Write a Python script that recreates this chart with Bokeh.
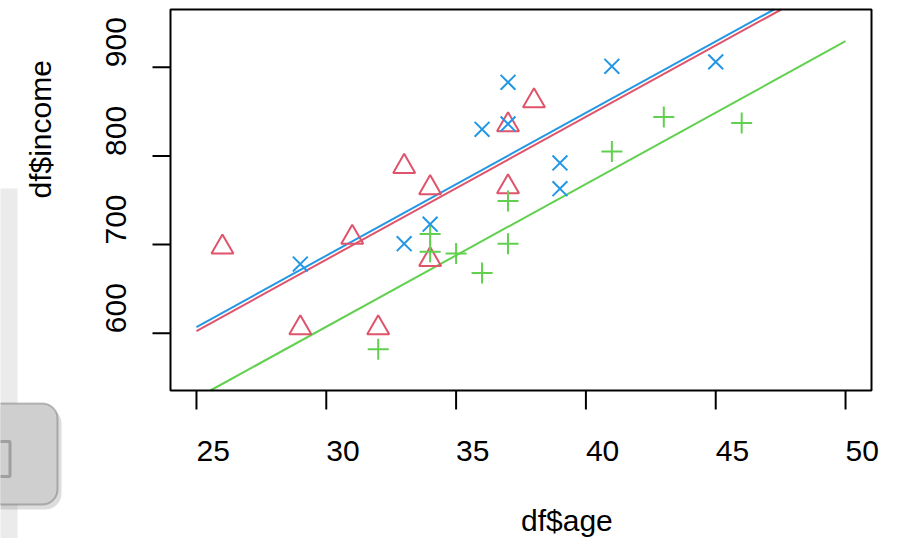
import math
from bokeh.plotting import figure
from bokeh.models import ColumnDataSource, Range1d, BoxAnnotation
from bokeh.core.properties import value
from bokeh.embed import file_html
from bokeh.resources import INLINE

# ---------------- data ----------------
blue_age = [29, 33, 34, 36, 37, 37, 39, 39, 41, 45]
blue_income = [678, 701, 723, 830, 883, 836, 792, 763, 901, 906]

red_age = [26, 29, 31, 33, 34, 34, 32, 37, 37, 38]
red_income = [697, 606, 708, 788, 764, 683, 606, 835, 765, 862]

green_age = [32, 34, 34, 35, 36, 37, 37, 41, 43, 46]
green_income = [582, 712, 692, 690, 668, 749, 701, 805, 844, 837]

# parallel fitted lines: income = intercept_at_25 + slope * (age - 25)
fit_slope = 16.1
fit_at25_blue = 607.0
fit_at25_red = 602.5
fit_at25_green = 526.8
fit_age_span = [25, 50]

x_ticks = [25, 30, 35, 40, 45, 50]
y_ticks = [600, 700, 800, 900]
x_title = "df$age"
y_title = "df$income"

BLUE = "#2297E6"
RED = "#DF536B"
GREEN = "#61D04F"
FONT = "Liberation Sans"

# ---------------- layout (pixel geometry of the R plot region) ----------------
W, H = 889, 538
BOX_L, BOX_R, BOX_T, BOX_B = 170, 871, 9, 390
X0, X1 = 24.0, 51.0          # data limits at the box edges
Y0, Y1 = 535.4, 965.1
BASE_SHIFT = 10.5            # rendered baseline sits this far past the anchor


def dx(px):
    return X0 + (px - BOX_L) * (X1 - X0) / (BOX_R - BOX_L)


def dy(py):
    return Y0 + (BOX_B - py) * (Y1 - Y0) / (BOX_B - BOX_T)


p = figure(width=W, height=H, output_backend="svg", toolbar_location=None,
           x_range=Range1d(dx(0), dx(W)), y_range=Range1d(dy(H), dy(0)),
           x_axis_location=None, y_axis_location=None,
           min_border=0, min_border_left=0, min_border_right=0,
           min_border_top=0, min_border_bottom=0)
p.grid.visible = False
p.outline_line_color = None
p.background_fill_color = "white"
p.border_fill_color = "white"

# ---- left-side interface remnants ----
p.add_layout(BoxAnnotation(left=dx(-5), right=dx(17), top=dy(188), bottom=dy(H + 5),
                           fill_color="#ebebeb", fill_alpha=1, line_color=None))
p.add_layout(BoxAnnotation(left=dx(-25), right=dx(61), top=dy(407), bottom=dy(509),
                           fill_color="#777777", fill_alpha=0.25, line_color=None,
                           border_radius=16))
p.add_layout(BoxAnnotation(left=dx(-25), right=dx(57), top=dy(403), bottom=dy(504),
                           fill_color="#cfcfcf", fill_alpha=1, line_color="#3a3a3a",
                           line_width=2, border_radius=15))
p.add_layout(BoxAnnotation(left=dx(-20), right=dx(9.5), top=dy(441), bottom=dy(476),
                           fill_color=None, line_color="#333333", line_width=3))

# ---- plot box and ticks ----
p.add_layout(BoxAnnotation(left=X0, right=X1, bottom=Y0, top=Y1, fill_color=None,
                           line_color="black", line_width=2, line_alpha=1))
p.segment(x0=x_ticks, y0=[Y0] * len(x_ticks), x1=x_ticks,
          y1=[dy(BOX_B + 19)] * len(x_ticks), line_color="black", line_width=2)
p.segment(x0=[X0] * len(y_ticks), y0=y_ticks, x1=[dx(BOX_L - 18)] * len(y_ticks),
          y1=y_ticks, line_color="black", line_width=2)

# ---- fitted lines, clipped to the plot box ----
for a25, col in ((fit_at25_red, RED), (fit_at25_green, GREEN), (fit_at25_blue, BLUE)):
    xa, xb = fit_age_span
    xa = max(xa, 25 + (Y0 - a25) / fit_slope)
    xb = min(xb, 25 + (Y1 - a25) / fit_slope)
    xs = [xa, xb]
    ys = [a25 + fit_slope * (x - 25) for x in xs]
    p.line(xs, ys, line_color=col, line_width=2)

# ---- points ----
p.scatter(red_age, red_income, marker="triangle", size=22, fill_color=None,
          line_color=RED, line_width=2)
p.scatter(green_age, green_income, marker="cross", size=21,
          line_color=GREEN, line_width=2)
p.scatter(blue_age, blue_income, marker="x", size=21,
          line_color=BLUE, line_width=2)

# ---- tick labels (start-aligned at the tick, as in the reference) ----
xl = ColumnDataSource(dict(x=x_ticks, y=[dy(461 - BASE_SHIFT)] * len(x_ticks),
                           t=[str(v) for v in x_ticks]))
p.text(x="x", y="y", text="t", source=xl, text_align="left",
       text_baseline="alphabetic", text_font=value(FONT),
       text_font_size=value("30px"), text_color="black")
yl = ColumnDataSource(dict(x=[dx(126 - BASE_SHIFT)] * len(y_ticks), y=y_ticks,
                           t=[str(v) for v in y_ticks]))
p.text(x="x", y="y", text="t", source=yl, angle=math.pi / 2, text_align="left",
       text_baseline="alphabetic", text_font=value(FONT),
       text_font_size=value("30px"), text_color="black")

# ---- axis titles ----
p.text(x=[(X0 + X1) / 2], y=[dy(530 - BASE_SHIFT)], text=[x_title], text_align="left",
       text_baseline="alphabetic", text_font=value(FONT),
       text_font_size=value("30px"), text_color="black")
p.text(x=[dx(50 - BASE_SHIFT)], y=[dy(198)], text=[y_title], angle=math.pi / 2,
       text_align="left", text_baseline="alphabetic", text_font=value(FONT),
       text_font_size=value("30px"), text_color="black")

open("out.html", "w").write(file_html(p, INLINE))
